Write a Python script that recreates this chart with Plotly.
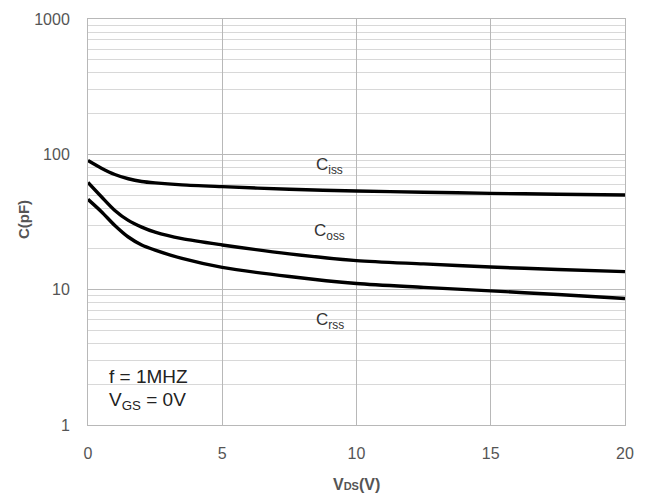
import math
import plotly.graph_objects as go

vds = [0, 0.5, 1, 1.5, 2, 2.5, 3.5, 5, 7.5, 10, 12.5, 15, 17.5, 20]
ciss = [90, 79, 71, 66, 63, 61.5, 59.5, 57.7, 55.2, 53.6, 52.5, 51.5, 50.7, 50]
coss = [62, 48.6, 38.5, 32.5, 29, 26.6, 23.8, 21.4, 18.4, 16.4, 15.5, 14.7, 14.1, 13.6]
crss = [46.5, 37.7, 29.8, 24.5, 21.4, 19.6, 17, 14.6, 12.5, 11.1, 10.4, 9.8, 9.2, 8.6]

labels = ["C<sub>iss</sub>", "C<sub>oss</sub>", "C<sub>rss</sub>"]
label_x = [9.0, 9.0, 9.0]
label_y = [82, 26.5, 5.9]

fig = go.Figure()
for ys in (ciss, coss, crss):
    fig.add_trace(go.Scatter(x=vds, y=ys, mode="lines",
                             line=dict(color="black", width=3.4, shape="spline", smoothing=0.8),
                             showlegend=False, hoverinfo="skip"))

for t, x, y in zip(labels, label_x, label_y):
    fig.add_annotation(x=x, y=math.log10(y), xref="x", yref="y", text=t, showarrow=False,
                       font=dict(family="Liberation Sans, Arial", size=17, color="#333"))

fig.add_annotation(x=0.7, y=math.log10(2.3), text="f = 1MHZ", showarrow=False, xanchor="left",
                   font=dict(family="Liberation Sans, Arial", size=19, color="#222"))
fig.add_annotation(x=0.7, y=math.log10(1.5), text="V<sub>GS</sub> = 0V", showarrow=False, xanchor="left",
                   font=dict(family="Liberation Sans, Arial", size=19, color="#222"))

# axis titles
fig.add_annotation(xref="paper", yref="paper", x=0.5, y=-0.147, xanchor="center", yanchor="middle",
                   text="<b>V<span style='font-size:11px'>DS</span>(V)</b>",
                   showarrow=False, font=dict(family="Liberation Sans, Arial", size=16, color="#555"))
fig.add_annotation(xref="paper", yref="paper", x=-0.119, y=0.505, xanchor="center", yanchor="middle",
                   text="<b>C(pF)</b>", textangle=-90,
                   showarrow=False, font=dict(family="Liberation Sans, Arial", size=15, color="#555"))

fig.update_layout(
    width=643, height=490,
    margin=dict(l=80, r=26, t=11, b=73),
    paper_bgcolor="white", plot_bgcolor="white",
    font=dict(family="Liberation Sans, Arial", color="#555"),
    xaxis=dict(range=[0, 20], tickvals=[0, 5, 10, 15, 20], showgrid=True, gridcolor="#b8b8b8",
               gridwidth=1, showline=True, linecolor="#b8b8b8", mirror=True, zeroline=False,
               tickfont=dict(size=16, color="#555"), ticks="", ticklabelstandoff=14,
               automargin=False),
    yaxis=dict(type="log", range=[0, 3], tickvals=[1, 10, 100, 1000], ticktext=["1", "10", "100", "1000"],
               showgrid=True, gridcolor="#b8b8b8", gridwidth=1, showline=True, linecolor="#b8b8b8",
               mirror=True, zeroline=False, tickfont=dict(size=16, color="#555"), ticks="",
               ticklabelstandoff=14, automargin=False,
               minor=dict(dtick="D1", showgrid=True, gridcolor="#d8d8d8", gridwidth=1)),
)

fig.write_html("out.html")
